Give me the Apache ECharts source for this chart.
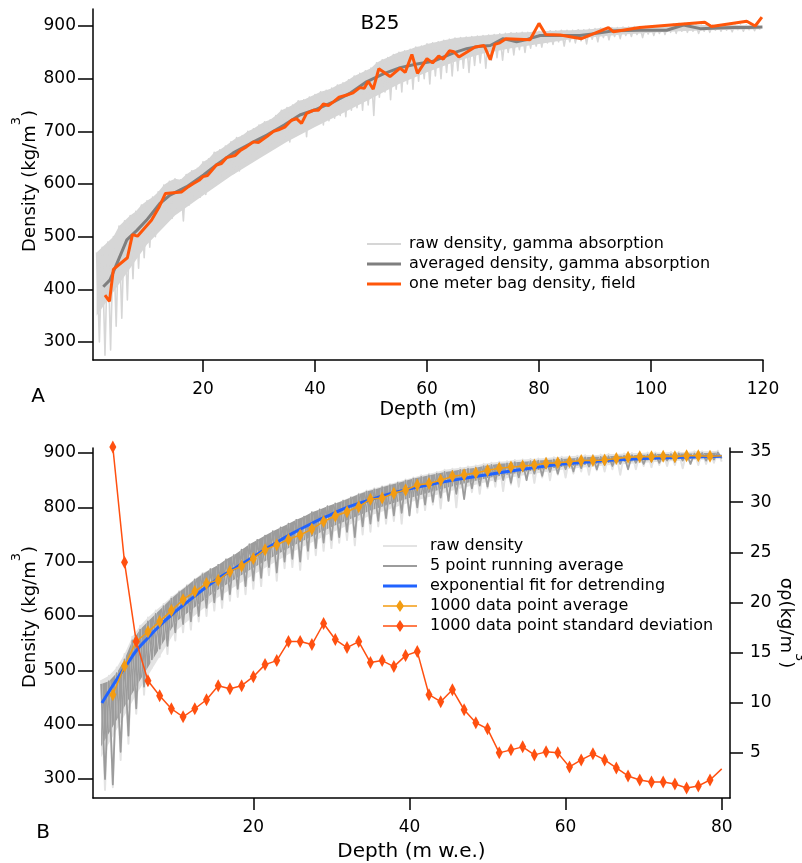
<!DOCTYPE html>
<html>
<head>
<meta charset="utf-8">
<script src="https://cdn.jsdelivr.net/npm/echarts@6/dist/echarts.min.js"></script>
<style>
  html, body { margin: 0; padding: 0; background: #fff; }
  #chart { width: 802px; height: 863px; }
</style>
</head>
<body>
<div id="chart"></div>
<script>
// ---- panel A (B25 core, depth in m) ----
// raw gamma density: upper value at depth 1,2,3... and lower spike at 1.5,2.5,...
const rawTopHi = [
  470, 480, 490, 500, 520, 530, 540, 548, 560, 568,
  575, 585, 598, 605, 610, 608, 618, 625, 630, 642,
  648, 660, 665, 672, 680, 688, 692, 700, 705, 712,
  718, 722, 730, 740, 745, 750, 758, 760, 765, 770,
  775, 778, 782, 788, 792, 798, 805, 810, 815, 820,
  830, 836, 840, 846, 850, 853, 856, 860, 862, 866,
  868, 870, 873, 875, 877, 878, 879, 880, 881, 882,
  883, 884, 885, 886, 887, 887, 888, 888, 889, 890,
  890, 891, 891, 892, 892, 892, 893, 893, 894, 895,
  896, 897, 897, 897, 898, 898, 899, 899, 899, 900,
  900, 900, 902, 904, 905, 905, 904, 903, 902, 902,
  902, 902, 902, 902, 902, 902, 902, 902, 902
];
const rawTopLo = [
  300, 275, 285, 330, 345, 380, 420, 440, 460, 480,
  500, 520, 540, 535, 550, 530, 560, 570, 575, 580,
  595, 600, 610, 615, 620, 625, 640, 645, 650, 660,
  665, 670, 680, 685, 680, 695, 700, 690, 710, 715,
  712, 720, 725, 730, 728, 740, 745, 740, 750, 730,
  765, 775, 760, 780, 775, 790, 780, 795, 800, 790,
  805, 800, 812, 805, 815, 820, 812, 825, 830, 820,
  835, 840, 835, 850, 845, 855, 850, 858, 862, 860,
  868, 865, 870, 862, 870, 868, 872, 866, 875, 870,
  878, 874, 880, 876, 882, 880, 884, 878, 885, 882,
  886, 884, 888, 886, 890, 888, 890, 886, 890, 888,
  892, 890, 892, 889, 893, 890, 893, 891, 893
];
// lower edge of the dense part of the raw band
const rawTopCoreDepth = [1, 5, 10, 15, 20, 25, 30, 35, 40, 45, 50, 55, 60, 65, 70, 75, 80, 85, 90, 95, 100, 105, 110, 115, 119.5];
const rawTopCore = [350, 410, 485, 540, 578, 615, 648, 680, 708, 735, 762, 790, 812, 832, 848, 858, 866, 874, 879, 884, 887, 890, 892, 893, 894];
const avgTopDepth = [2.2, 3.4, 4.9, 6.4, 8.2, 9.9, 12.3, 14.1, 17.1, 20.1, 22.5, 25.4, 28.5, 31.4, 34.5,
  37.3, 40.3, 43.3, 46.2, 49.2, 52.2, 55.2, 58.2, 61.1, 62.9, 65.0, 67.1, 69.2, 71.3, 73.6,
  76.0, 78.0, 80.2, 84.0, 87.3, 90.3, 93.3, 98.0, 102.8, 105.8, 108.8, 111.8, 114.7, 117.3, 119.9];
const avgTopDensity = [405, 418, 456, 494, 512, 531, 563, 579, 595, 617, 637, 659, 677, 693, 712,
  731, 742, 756, 772, 794, 809, 821, 828, 833, 841, 850, 857, 861, 863, 876,
  870, 875, 882, 882, 882, 886, 891, 892, 892, 902, 895, 896, 897, 897, 898];
const bagDepth = [2.5, 3.3, 4.0, 6.5, 7.4, 8.3, 10.8, 12.2, 13.3, 16.2,
  17.4, 18.3, 19.3, 20.0, 20.8, 22.4, 23.3, 24.2, 25.7, 26.6,
  27.8, 29.0, 29.9, 31.4, 32.6, 33.5, 34.6, 35.8, 36.7, 37.6,
  38.5, 39.7, 40.6, 41.5, 42.4, 43.3, 44.3, 45.7, 46.8, 48.0,
  48.8, 49.5, 50.4, 51.4, 53.4, 55.2, 56.1, 57.3, 58.3, 60.0,
  61.0, 62.1, 62.9, 64.0, 64.8, 65.7, 68.6, 70.2, 71.3, 72.1,
  73.0, 74.1, 78.4, 80.0, 81.2, 83.8, 87.6, 92.4, 93.3, 98.0,
  109.6, 110.8, 117.1, 118.6, 119.8];
const bagDensity = [389, 377, 438, 460, 504, 501, 531, 557, 582, 585,
  595, 601, 607, 614, 616, 636, 639, 650, 654, 663,
  671, 680, 679, 690, 700, 703, 708, 721, 724, 715,
  734, 740, 740, 752, 749, 756, 765, 769, 773, 783,
  782, 795, 780, 819, 804, 820, 812, 846, 810, 838,
  830, 843, 837, 853, 851, 841, 860, 863, 836, 865,
  868, 876, 874, 905, 884, 883, 876, 897, 889, 897,
  907, 899, 909, 900, 917];
const topXTicks = [20, 40, 60, 80, 100, 120];
const topYTicks = [300, 400, 500, 600, 700, 800, 900];

// ---- panel B (depth in m w.e.) ----
// upper value at 0.5,1.5,... and lower spike at 1,2,...
const rawBotHi = [
  482, 490, 505, 530, 562, 582, 597, 610, 622, 635,
  646, 657, 668, 679, 686, 694, 704, 712, 721, 731,
  738, 746, 754, 761, 768, 776, 782, 790, 795, 801,
  807, 813, 819, 825, 831, 835, 839, 843, 847, 851,
  855, 859, 862, 865, 869, 871, 873, 875, 877, 880,
  882, 884, 885, 887, 888, 889, 890, 891, 892, 893,
  894, 895, 896, 896, 897, 898, 898, 899, 900, 900,
  901, 901, 901, 902, 902, 902, 903, 903, 903, 904
];
const rawBotLo = [
  280, 285, 335, 365, 420, 455, 505, 525, 530, 555,
  570, 575, 590, 600, 610, 615, 628, 635, 640, 650,
  655, 675, 665, 688, 690, 685, 705, 712, 720, 725,
  735, 740, 730, 750, 755, 765, 770, 775, 770, 785,
  790, 795, 805, 798, 812, 800, 820, 828, 825, 835,
  838, 830, 842, 838, 850, 845, 855, 850, 860, 855,
  862, 866, 860, 868, 866, 870, 860, 873, 870, 876,
  874, 878, 876, 878, 872, 880, 878, 880, 882, 884
];
const run5Hi = [
  475, 480, 495, 520, 555, 575, 590, 604, 618, 632,
  644, 655, 667, 677, 686, 694, 704, 712, 722, 732,
  740, 748, 756, 763, 770, 777, 783, 791, 796, 802,
  807, 812, 818, 824, 829, 833, 837, 841, 845, 849,
  853, 856, 859, 862, 865, 867, 869, 871, 873, 876,
  878, 880, 881, 883, 884, 885, 886, 887, 888, 889,
  890, 891, 892, 893, 893, 894, 895, 895, 896, 897,
  897, 898, 898, 898, 899, 899, 899, 900, 900, 901
];
const run5Lo = [
  300, 290, 350, 380, 430, 470, 520, 540, 545, 570,
  585, 590, 600, 615, 625, 630, 640, 650, 655, 665,
  670, 690, 680, 700, 705, 700, 720, 725, 735, 740,
  745, 755, 745, 765, 770, 775, 780, 785, 790, 785,
  800, 805, 810, 818, 812, 825, 815, 835, 840, 838,
  848, 850, 845, 855, 850, 862, 858, 865, 862, 870,
  866, 872, 875, 870, 878, 876, 880, 870, 882, 880,
  884, 882, 886, 884, 886, 880, 888, 886, 888, 890
];
// lower edge of the dense part of each band
const botCoreDepth = [0.5, 5, 10, 15, 20, 25, 30, 35, 40, 45, 50, 55, 60, 65, 70, 75, 80];
const rawBotCore = [340, 455, 572, 630, 676, 718, 753, 785, 809, 829, 847, 860, 870, 877, 882, 886, 889];
const run5Core = [360, 470, 588, 644, 689, 729, 764, 794, 817, 837, 854, 866, 875, 881, 886, 889, 892];
const fitDepth = [0.6, 2, 3, 4, 5, 6, 8, 10, 12, 15, 18, 20, 22, 25, 28, 30, 32, 35, 38, 40,
  43, 46, 50, 55, 60, 65, 70, 75, 80];
const fitDensity = [440, 472, 494, 515, 536, 552, 582, 608, 631, 664, 691, 709, 727, 752, 774, 787, 800, 814, 827, 834,
  843, 851, 860, 871, 880, 886, 890, 892, 894];
const blockDepth = [2, 3.5, 5, 6.5, 8, 9.5, 11, 12.5, 14, 15.5, 17, 18.5, 20, 21.5, 23, 24.5, 26, 27.5,
  29, 30.5, 32, 33.5, 35, 36.5, 38, 39.5, 41, 42.5, 44, 45.5, 47, 48.5, 50, 51.5, 53, 54.5,
  56, 57.5, 59, 60.5, 62, 63.5, 65, 66.5, 68, 69.5, 71, 72.5, 74, 75.5, 77, 78.5, 80];
const blockMean = [455, 508, 553, 571, 590, 610, 630, 645, 660, 666, 682, 692, 706, 722, 731, 741, 749, 760,
  774, 784, 792, 801, 815, 817, 826, 832, 841, 844, 850, 857, 860, 863, 868, 872, 874, 876,
  878, 881, 882, 884, 886, 886, 887, 890, 892, 893, 893, 894, 893, 895, 895, 894, 895];
const blockStd = [35.5, 24.0, 16.1, 12.2, 10.7, 9.4, 8.6, 9.4, 10.3, 11.7, 11.4, 11.7, 12.6, 13.8, 14.2, 16.1, 16.1, 15.8,
  17.9, 16.3, 15.5, 16.1, 14.0, 14.2, 13.6, 14.7, 15.1, 10.8, 10.1, 11.3, 9.3, 8.0, 7.4, 5.0, 5.3, 5.6,
  4.8, 5.1, 5.0, 3.6, 4.3, 4.9, 4.3, 3.5, 2.7, 2.3, 2.1, 2.1, 1.9, 1.5, 1.7, 2.3, 3.4];
const botXTicks = [20, 40, 60, 80];
const botYTicks = [300, 400, 500, 600, 700, 800, 900];
const stdTicks = [5, 10, 15, 20, 25, 30, 35];

const FONT = "DejaVu Sans";

const zipPairs = (xs, ys) => xs.map((x, i) => [x, ys[i]]);

// zigzag between the upper values and the downward spikes
const zigzag = (hi, lo, start) => {
  const ret = [];
  hi.forEach((v, i) => {
    ret.push([start + i, v], [start + 0.5 + i, lo[i]]);
  });
  return ret;
};

// filled dense part of a raw band: upper values forward, core edge back
const bandSeries = (name, hi, start, coreDepth, core, color, xi, yi) => ({
  name: name, type: "custom", xAxisIndex: xi, yAxisIndex: yi, silent: true,
  data: [[start, hi[0]]],
  renderItem: (params, api) => {
    const pts = hi.map((v, i) => api.coord([start + i, v]));
    for (let j = core.length - 1; j >= 0; j--) {
      pts.push(api.coord([coreDepth[j], core[j]]));
    }
    return { type: "polygon", shape: { points: pts }, style: { fill: color } };
  },
  itemStyle: { color: color }
});

// last block point is drawn without its marker
const withLastBare = (pairs) => pairs.map((p, i) =>
  i === pairs.length - 1 ? { value: p, symbol: "none" } : p);

const LINE2 = "path://M0,0H34V2H0Z";
const LINE3 = "path://M0,0H34V3H0Z";
const LINED = "path://M0,5.25H13.5L17,0L20.5,5.25H34V6.75H20.5L17,12L13.5,6.75H0Z";

const axisBase = (ticks, tickLen, margin) => ({
  type: "value",
  axisLine: { show: true, onZero: false, lineStyle: { color: "#000", width: 1.5 } },
  axisTick: { show: true, inside: false, length: tickLen, customValues: ticks, lineStyle: { color: "#000", width: 1.5 } },
  axisLabel: { customValues: ticks, margin: margin, color: "#000", fontSize: 17, fontFamily: FONT },
  splitLine: { show: false }
});

const titleRich = {
  a: { fontSize: 18, fontFamily: FONT, lineHeight: 39, fill: "#000" },
  s: { fontSize: 13, fontFamily: FONT, lineHeight: 13, verticalAlign: "top", fill: "#000" }
};
const gText = (x, y, text, size, rotation) => ({
  type: "text",
  x: x,
  y: y,
  rotation: rotation || 0,
  style: {
    text: text,
    font: size + "px '" + FONT + "'",
    fill: "#000",
    align: "center",
    verticalAlign: "middle",
    rich: titleRich
  }
});

const myChart = echarts.init(document.getElementById("chart"));
const option = {
  animation: false,
  backgroundColor: "#fff",
  grid: [
    { left: 93, right: 39, top: 9, bottom: 503, outerBoundsMode: "none" },
    { left: 93, right: 72, top: 448, bottom: 65, outerBoundsMode: "none" }
  ],
  xAxis: [
    Object.assign(axisBase(topXTicks, 12, 21), {
      gridIndex: 0, min: 0.36, max: 120,
      name: "Depth (m)", nameLocation: "middle", nameGap: 41,
      nameTextStyle: { fontSize: 19, fontFamily: FONT, color: "#000" }
    }),
    Object.assign(axisBase(botXTicks, 12, 21), {
      gridIndex: 1, min: -0.54, max: 81.06,
      name: "Depth (m w.e.)", nameLocation: "middle", nameGap: 44,
      nameTextStyle: { fontSize: 20, fontFamily: FONT, color: "#000" }
    })
  ],
  yAxis: [
    Object.assign(axisBase(topYTicks, 15, 17), { gridIndex: 0, min: 265.8, max: 932.3 }),
    Object.assign(axisBase(botYTicks, 15, 17), { gridIndex: 1, min: 265, max: 909.2 }),
    Object.assign(axisBase(stdTicks, 13, 20), { gridIndex: 1, min: 0.5, max: 35.4, position: "right" })
  ],
  legend: [
    {
      orient: "vertical", left: 367, top: 236, padding: 0,
      itemWidth: 34, itemHeight: 12, itemGap: 4,
      itemStyle: { borderWidth: 0 },
      textStyle: { fontSize: 16, fontFamily: FONT, color: "#000", padding: [0, 0, 0, 3] },
      selectedMode: false,
      data: [
        { name: "raw density, gamma absorption", icon: LINE2 },
        { name: "averaged density, gamma absorption", icon: LINE3 },
        { name: "one meter bag density, field", icon: LINE3 }
      ]
    },
    {
      orient: "vertical", left: 383, top: 538, padding: 0,
      itemWidth: 34, itemHeight: 12, itemGap: 4,
      itemStyle: { borderWidth: 0 },
      textStyle: { fontSize: 16, fontFamily: FONT, color: "#000", padding: [0, 0, 0, 8] },
      selectedMode: false,
      data: [
        { name: "raw density", icon: LINE2 },
        { name: "5 point running average", icon: LINE2 },
        { name: "exponential fit for detrending", icon: LINE3 },
        { name: "1000 data point average", icon: LINED },
        { name: "1000 data point standard deviation", icon: LINED }
      ]
    }
  ],
  graphic: [
    gText(380, 24, "B25", 20),
    gText(38, 397, "A", 20),
    gText(43, 833, "B", 20),
    gText(30, 181, "{a|Density (kg/m}{s|3}{a|)}", 18, Math.PI / 2),
    gText(30, 617, "{a|Density (kg/m}{s|3}{a|)}", 18, Math.PI / 2),
    gText(786, 623, "{a|σρ(kg/m}{s|3}{a|)}", 18, -Math.PI / 2)
  ],
  series: [
    bandSeries("raw band A", rawTopHi, 1, rawTopCoreDepth, rawTopCore, "#d6d6d6", 0, 0),
    {
      name: "raw density, gamma absorption", type: "line", xAxisIndex: 0, yAxisIndex: 0,
      data: zigzag(rawTopHi, rawTopLo, 1), symbol: "none",
      lineStyle: { color: "#d6d6d6", width: 1.6, join: "round" }, itemStyle: { color: "#d6d6d6" }
    },
    {
      name: "averaged density, gamma absorption", type: "line", xAxisIndex: 0, yAxisIndex: 0,
      data: zipPairs(avgTopDepth, avgTopDensity), symbol: "none",
      lineStyle: { color: "#7f7f7f", width: 3 }, itemStyle: { color: "#7f7f7f" }
    },
    {
      name: "one meter bag density, field", type: "line", xAxisIndex: 0, yAxisIndex: 0,
      data: zipPairs(bagDepth, bagDensity), symbol: "none",
      lineStyle: { color: "#ff560a", width: 3 }, itemStyle: { color: "#ff560a" }
    },
    bandSeries("raw band B", rawBotHi, 0.5, botCoreDepth, rawBotCore, "#e3e3e3", 1, 1),
    {
      name: "raw density", type: "line", xAxisIndex: 1, yAxisIndex: 1,
      data: zigzag(rawBotHi, rawBotLo, 0.5), symbol: "none",
      lineStyle: { color: "#e3e3e3", width: 2, join: "round" }, itemStyle: { color: "#e3e3e3" }
    },
    bandSeries("running band B", run5Hi, 0.5, botCoreDepth, run5Core, "#9c9c9c", 1, 1),
    {
      name: "5 point running average", type: "line", xAxisIndex: 1, yAxisIndex: 1,
      data: zigzag(run5Hi, run5Lo, 0.5), symbol: "none",
      lineStyle: { color: "#9c9c9c", width: 1.8, join: "round" }, itemStyle: { color: "#9c9c9c" }
    },
    {
      name: "exponential fit for detrending", type: "line", xAxisIndex: 1, yAxisIndex: 1,
      data: zipPairs(fitDepth, fitDensity), symbol: "none", smooth: true,
      lineStyle: { color: "#2063ff", width: 3 }, itemStyle: { color: "#2063ff" }
    },
    {
      name: "1000 data point average", type: "line", xAxisIndex: 1, yAxisIndex: 1,
      data: withLastBare(zipPairs(blockDepth, blockMean)),
      symbol: "diamond", symbolSize: [7, 13], showSymbol: true,
      lineStyle: { color: "#f39c12", width: 1.5 }, itemStyle: { color: "#f39c12" }
    },
    {
      name: "1000 data point standard deviation", type: "line", xAxisIndex: 1, yAxisIndex: 2,
      data: withLastBare(zipPairs(blockDepth, blockStd)), clip: false,
      symbol: "diamond", symbolSize: [7, 13], showSymbol: true,
      lineStyle: { color: "#ff5010", width: 1.5 }, itemStyle: { color: "#ff5010" }
    }
  ]
};
option && myChart.setOption(option);
</script>
</body>
</html>
